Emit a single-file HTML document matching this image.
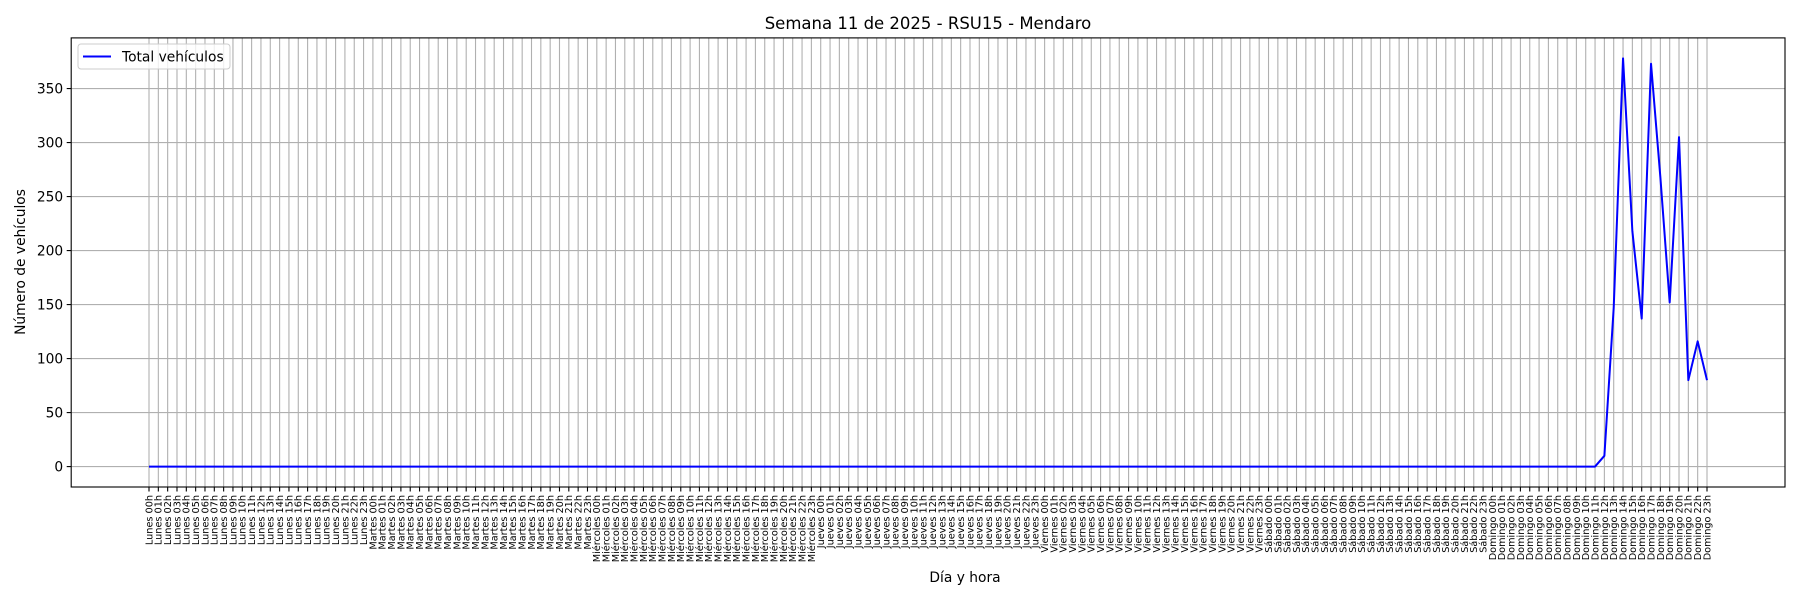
<!DOCTYPE html>
<html><head><meta charset="utf-8"><style>
body{margin:0;background:#fff}
svg{display:block;font-family:"DejaVu Sans","Liberation Sans",sans-serif}
</style></head><body>
<svg id="chart" width="1800" height="600" viewBox="0 0 1800 600">
<rect width="1800" height="600" fill="#fff"/>
<text x="928" y="29" text-anchor="middle" font-size="16.5" fill="#000">Semana 11 de 2025 - RSU15 - Mendaro</text>
<text x="965" y="582" text-anchor="middle" font-size="13.8" fill="#000">Día y hora</text>
<text transform="translate(25,262) rotate(-90)" text-anchor="middle" font-size="13.8" fill="#000">Número de vehículos</text>
<g id="grid"></g><g id="xt"></g><g id="yt"></g><g id="plot"></g>
<rect x="71.2" y="37.9" width="1713.8" height="449.1" fill="none" stroke="#000" stroke-width="1.1"/>
<g>
<rect x="78" y="44" width="152" height="25" rx="3" fill="#fff" fill-opacity="0.8" stroke="#ccc"/>
<line x1="83" y1="56.5" x2="111" y2="56.5" stroke="#0000ff" stroke-width="2"/>
<text x="122" y="61.5" font-size="13.8" fill="#000">Total vehículos</text>
</g>
</svg>
<script>
const days=["Lunes","Martes","Miércoles","Jueves","Viernes","Sábado","Domingo"];
const yTicks=[0,50,100,150,200,250,300,350];
const domingoValues=[0,0,0,0,0,0,0,0,0,0,0,0,10,147,378,218,137,373,268,152,305,80,116,80];
const categories=[];const values=[];
days.forEach((d,di)=>{for(let h=0;h<24;h++){categories.push(d+" "+String(h).padStart(2,"0")+"h");values.push(di===6?domingoValues[h]:0);}});
const NS="http://www.w3.org/2000/svg";
const L=71.2,R=1785,T=37.9,B=487;
const x0=149,xStep=(1707-149)/167;
const xs=i=>x0+i*xStep;
const yMin=-18.9,yMax=396.9;
const ys=v=>B-(v-yMin)/(yMax-yMin)*(B-T);
function mk(tag,attrs,parent){const e=document.createElementNS(NS,tag);for(const k in attrs)e.setAttribute(k,attrs[k]);parent.appendChild(e);return e;}
const grid=document.getElementById("grid"),xt=document.getElementById("xt"),yt=document.getElementById("yt"),plot=document.getElementById("plot");
categories.forEach((c,i)=>{
  const x=xs(i);
  const g=mk("line",{x1:x,x2:x,y1:T,y2:B,stroke:"#b0b0b0","stroke-width":1.1},grid);
  
  
  const tk=mk("line",{x1:x,x2:x,y1:B,y2:B+4.5,stroke:"#000","stroke-width":1.1},xt);
  
  
  const t=mk("text",{transform:`translate(${x+3.4},${B+8}) rotate(-90)`,"text-anchor":"end","font-size":"9.7",fill:"#000"},xt);
  t.textContent=c;
  
  
});
yTicks.forEach(v=>{
  const y=ys(v);
  const g=mk("line",{x1:L,x2:R,y1:y,y2:y,stroke:"#b0b0b0","stroke-width":1.1},grid);
  
  
  const tk=mk("line",{x1:L-4.5,x2:L,y1:y,y2:y,stroke:"#000","stroke-width":1.1},yt);
  
  
  const t=mk("text",{x:L-8,y:y+5,"text-anchor":"end","font-size":"13.8",fill:"#000"},yt);
  t.textContent=v;
  
  
});
const line=mk("polyline",{points:values.map((v,i)=>xs(i)+","+ys(v)).join(" "),fill:"none",stroke:"#0000ff","stroke-width":2,"stroke-linejoin":"round"},plot);


</script>
</body></html>
